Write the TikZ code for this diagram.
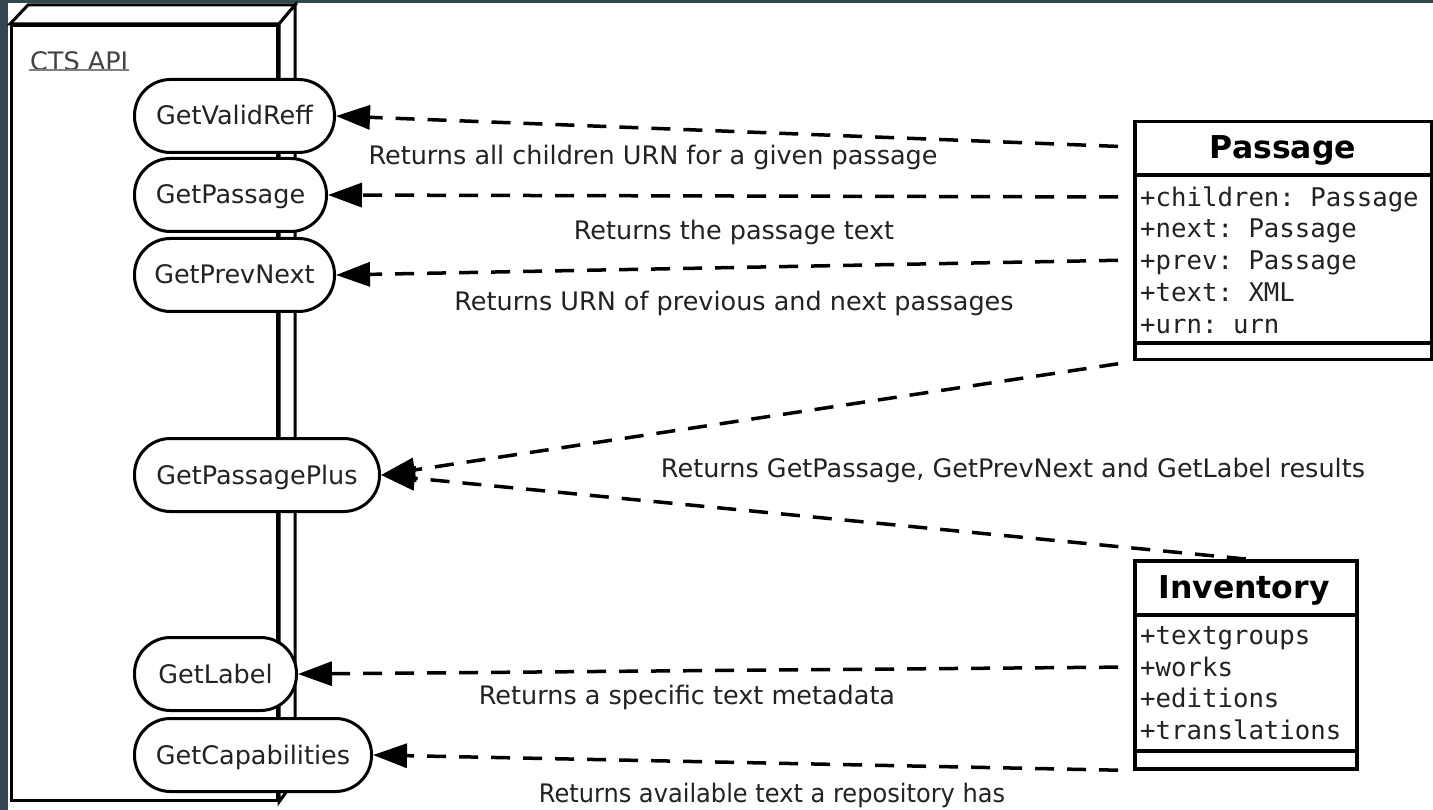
\documentclass[tikz,border=0pt]{standalone}
\usepackage{fontspec}
\usepackage{graphicx}
\setmainfont{DejaVu Sans}
\setmonofont{DejaVu Sans Mono}
\usetikzlibrary{arrows.meta}
\definecolor{bgdark}{RGB}{52,70,79}
\definecolor{txt}{RGB}{34,34,34}
\begin{document}
\begin{tikzpicture}[x=1pt,y=-1pt,
  pill/.style={draw, line width=3pt, fill=white, rounded corners=36pt, minimum height=73pt,
    anchor=west, inner xsep=4pt, text height=18pt, text depth=0pt, text=txt,
    font=\fontsize{25.5}{30}\selectfont},
  classbox/.style={draw, line width=3.5pt, fill=white, anchor=north west, inner sep=0pt},
  attr/.style={anchor=west, inner sep=0pt, text height=19pt, text depth=0pt, text=txt,
    font=\ttfamily\fontsize{25.7}{30}\selectfont},
  hdr/.style={inner sep=0pt, text height=23pt, text depth=0pt, font=\bfseries\fontsize{31.5}{36}\selectfont},
  lbl/.style={inner sep=0pt, text=txt, font=\fontsize{25.5}{30}\selectfont},
  dep/.style={draw, line width=3.5pt, dash pattern=on 19pt off 13pt,
    -{Triangle[length=34pt,width=24pt]}},
  face/.style={draw, line width=3pt, fill=white, line join=miter}
]
\useasboundingbox (0,0) rectangle (1433,810);
\fill[white] (0,0) rectangle (1433,810);
\fill[bgdark] (0,0) rectangle (1433,3);
\fill[bgdark] (0,0) rectangle (8,810);

% 3D deployment node
\node[face, minimum width=266pt, minimum height=775pt, anchor=north west, inner sep=0pt] (cts) at (10,24) {};
\draw[face] (cts.north west) -- ++(18,-19) -- (295,5) -- (cts.north east) -- cycle;
\draw[face] (cts.north east) -- (295,5) -- (295,780) -- (cts.south east) -- cycle;
\node[anchor=west, inner sep=1pt, text=txt!85, font=\fontsize{25.5}{30}\selectfont] (api) at (29,61) {CTS API};
\draw[line width=1.6pt, gray] ([yshift=2pt]api.south west) -- ([yshift=2pt]api.south east);

% operations
\node[pill, minimum width=200pt] (gvr) at (133,116) {GetValidReff};
\node[pill, minimum width=192pt] (gp)  at (133,195) {GetPassage};
\node[pill, minimum width=200pt] (gpn) at (133,275) {GetPrevNext};
\node[pill, minimum width=245pt] (gpp) at (133,475) {GetPassagePlus};
\node[pill, minimum width=162pt] (gl)  at (133,674) {GetLabel};
\node[pill, minimum width=237pt] (gc)  at (133,755) {GetCapabilities};

% Passage class
\node[classbox, minimum width=297pt, minimum height=238pt] (passage) at (1133,120) {};
\draw[line width=3.5pt] (1133,175) -- (1430,175);
\draw[line width=3.5pt] (1133,343) -- (1430,343);
\node[hdr] (ph) at (1283,147) {Passage};
\node[attr] (pa1) at (1140,197) {+children: Passage};
\node[attr] (pa2) at (1140,228) {+next: Passage};
\node[attr] (pa3) at (1140,260) {+prev: Passage};
\node[attr] (pa4) at (1140,292) {+text: XML};
\node[attr] (pa5) at (1140,324) {+urn: urn};

% Inventory class
\node[classbox, minimum width=222pt, minimum height=208pt] (inv) at (1133,559) {};
\draw[line width=3.5pt] (1133,615) -- (1355,615);
\draw[line width=3.5pt] (1133,751) -- (1355,751);
\node[hdr] (ih) at (1244,587) {Inventory};
\node[attr] (ia1) at (1140,635) {+textgroups};
\node[attr] (ia2) at (1140,667) {+works};
\node[attr] (ia3) at (1140,698) {+editions};
\node[attr] (ia4) at (1140,730) {+translations};

% connectors
\draw[dep, shorten <=15pt] (ph -| passage.west) -- (gvr.east);
\draw[dep, shorten <=15pt] (pa1 -| passage.west) -- (gp.east);
\draw[dep, shorten <=15pt] (pa3 -| passage.west) -- (gpn.east);
\draw[dep, shorten <=15pt] (passage.south west) -- (gpp.east);
\draw[dep] (inv.north) -- (gpp.east);
\draw[dep, shorten <=15pt] (ia2 -| inv.west) -- (gl.east);
\draw[dep, shorten <=15pt] (inv.south west) -- (gc.east);

% labels
\node[lbl] (l1) at (653,157) {Returns all children URN for a given passage};
\node[lbl] (l2) at (734,232) {Returns the passage text};
\node[lbl] (l3) at (734,303) {Returns URN of previous and next passages};
\node[lbl] (l4) at (1013,470) {Returns GetPassage, GetPrevNext and GetLabel results};
\node[lbl] (l5) at (687,697) {Returns a specific text metadata};
\node[lbl] (l6) at (772,795) {\scalebox{0.945}[1]{Returns available text a repository has}};
\end{tikzpicture}
\end{document}
